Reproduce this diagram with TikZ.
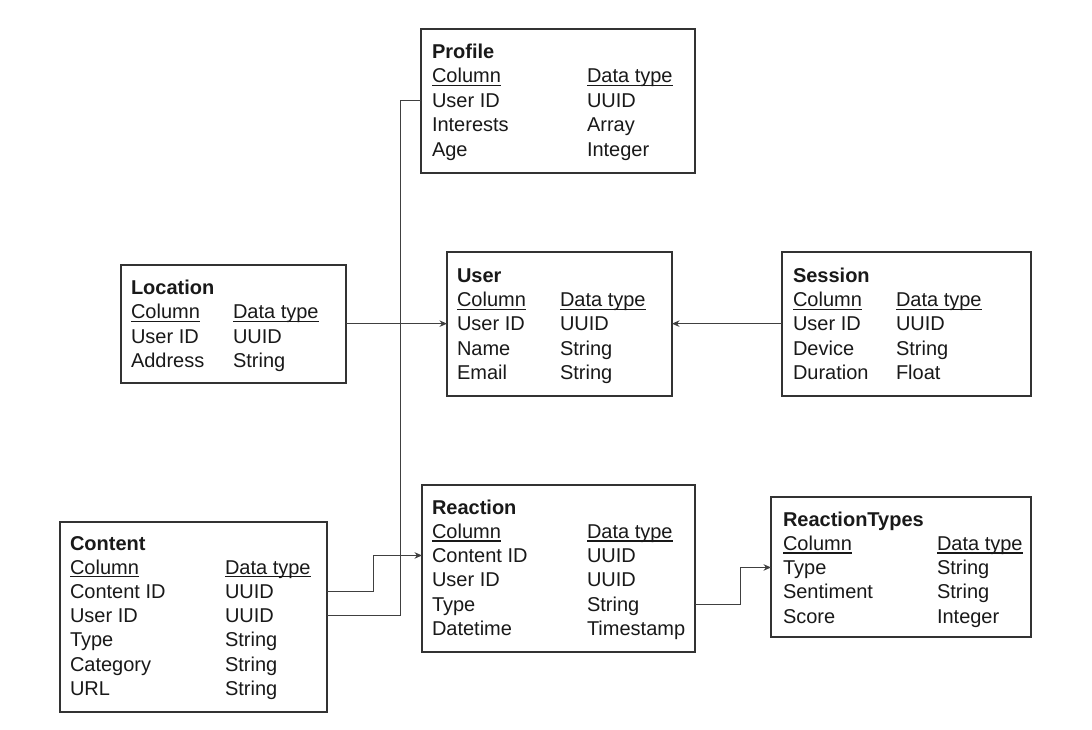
\documentclass[tikz,border=0pt]{standalone}
\usepackage{fontspec}
\setmainfont{Liberation Sans}
\usetikzlibrary{arrows.meta,calc}
\newcommand\myul[1]{\setbox0\hbox{#1}\rlap{\copy0}\rule[-3.2pt]{\wd0}{1.1pt}}
\newcommand\tbrow[6]{%
  \node[txt] (#1a) at (#2,#4) {#5};
  \node[txt] (#1b) at (#3,#4) {#6};}
\begin{document}
\begin{tikzpicture}[x=1pt,y=-1pt,
  tbl/.style={draw=black!80, line width=1.1pt, inner sep=0pt, outer sep=0pt, anchor=north west},
  txt/.style={anchor=base west, inner sep=0pt, outer sep=0pt, font=\fontsize{20}{24}\selectfont, text height=14.3pt, text depth=0pt, text=black!90},
  ttl/.style={txt, font=\fontsize{20}{24}\selectfont\bfseries},
  conn/.style={draw=black!75, line width=1pt},
  arr/.style={conn, -{Stealth[length=7.5pt,width=6.5pt]}}]
\useasboundingbox[fill=white] (0,0) rectangle (1092,729);

% ---------- boxes ----------
\node[tbl, minimum width=274pt, minimum height=144pt] (prof) at (421,29) {};
\node[tbl, minimum width=225pt, minimum height=118pt] (loc) at (121,265) {};
\node[tbl, minimum width=225pt, minimum height=144pt] (user) at (447,252) {};
\node[tbl, minimum width=249pt, minimum height=144pt] (sess) at (782,252) {};
\node[tbl, minimum width=273pt, minimum height=167pt] (reac) at (422,485) {};
\node[tbl, minimum width=260pt, minimum height=140pt] (rtyp) at (771,497) {};
\node[tbl, minimum width=267pt, minimum height=190pt] (cont) at (60,522) {};

% ---------- Profile ----------
\node[ttl] (proft) at (432,58.5) {Profile};
\tbrow{ph}{432}{587}{82.9}{\myul{Column}}{\myul{Data type}}
\tbrow{puid}{432}{587}{107.3}{User ID}{UUID}
\tbrow{pint}{432}{587}{131.7}{Interests}{Array}
\tbrow{page}{432}{587}{156.1}{Age}{Integer}

% ---------- Location ----------
\node[ttl] (loct) at (131,294.5) {Location};
\tbrow{lh}{131}{233}{318.8}{\myul{Column}}{\myul{Data type}}
\tbrow{luid}{131}{233}{343.1}{User ID}{UUID}
\tbrow{ladr}{131}{233}{367.4}{Address}{String}

% ---------- User ----------
\node[ttl] (usert) at (457,282) {User};
\tbrow{uh}{457}{560}{306.4}{\myul{Column}}{\myul{Data type}}
\tbrow{uuid}{457}{560}{330.8}{User ID}{UUID}
\tbrow{unam}{457}{560}{355.2}{Name}{String}
\tbrow{umail}{457}{560}{379.6}{Email}{String}

% ---------- Session ----------
\node[ttl] (sesst) at (793,282) {Session};
\tbrow{sh}{793}{896}{306.4}{\myul{Column}}{\myul{Data type}}
\tbrow{suid}{793}{896}{330.8}{User ID}{UUID}
\tbrow{sdev}{793}{896}{355.2}{Device}{String}
\tbrow{sdur}{793}{896}{379.6}{Duration}{Float}

% ---------- Reaction ----------
\node[ttl] (react) at (432,514) {Reaction};
\tbrow{rh}{432}{587}{538.3}{\myul{Column}}{\myul{Data type}}
\tbrow{rcid}{432}{587}{562.6}{Content ID}{UUID}
\tbrow{ruid}{432}{587}{586.9}{User ID}{UUID}
\tbrow{rtyp}{432}{587}{611.2}{Type}{String}
\tbrow{rdt}{432}{587}{635.5}{Datetime}{Timestamp}

% ---------- ReactionTypes ----------
\node[ttl] (rtt) at (783,526) {ReactionTypes};
\tbrow{th}{783}{937}{550.3}{\myul{Column}}{\myul{Data type}}
\tbrow{ttyp}{783}{937}{574.6}{Type}{String}
\tbrow{tsen}{783}{937}{598.9}{Sentiment}{String}
\tbrow{tsco}{783}{937}{623.2}{Score}{Integer}

% ---------- Content ----------
\node[ttl] (contt) at (70,550) {Content};
\tbrow{ch}{70}{225}{574.2}{\myul{Column}}{\myul{Data type}}
\tbrow{ccid}{70}{225}{598.4}{Content ID}{UUID}
\tbrow{cuid}{70}{225}{622.6}{User ID}{UUID}
\tbrow{ctyp}{70}{225}{646.8}{Type}{String}
\tbrow{ccat}{70}{225}{671}{Category}{String}
\tbrow{curl}{70}{225}{695.2}{URL}{String}

% ---------- bend coordinates ----------
\coordinate (b1) at (400,0);
\coordinate (b2) at (373,0);
\coordinate (b3) at (740,0);

% ---------- connectors ----------
\draw[conn] (prof.west |- puida) -| (b1 |- cuida) -- (cont.east |- cuida);
\draw[arr] (loc.east |- uuida) -- (user.west |- uuida);
\draw[arr] (sess.west |- uuida) -- (user.east |- uuida);
\draw[arr] (cont.east |- ccida) -| (b2 |- rcida) -- (reac.west |- rcida);
\draw[arr] (reac.east |- rtypa) -| (b3 |- ttypa) -- (rtyp.west |- ttypa);
\end{tikzpicture}
\end{document}
